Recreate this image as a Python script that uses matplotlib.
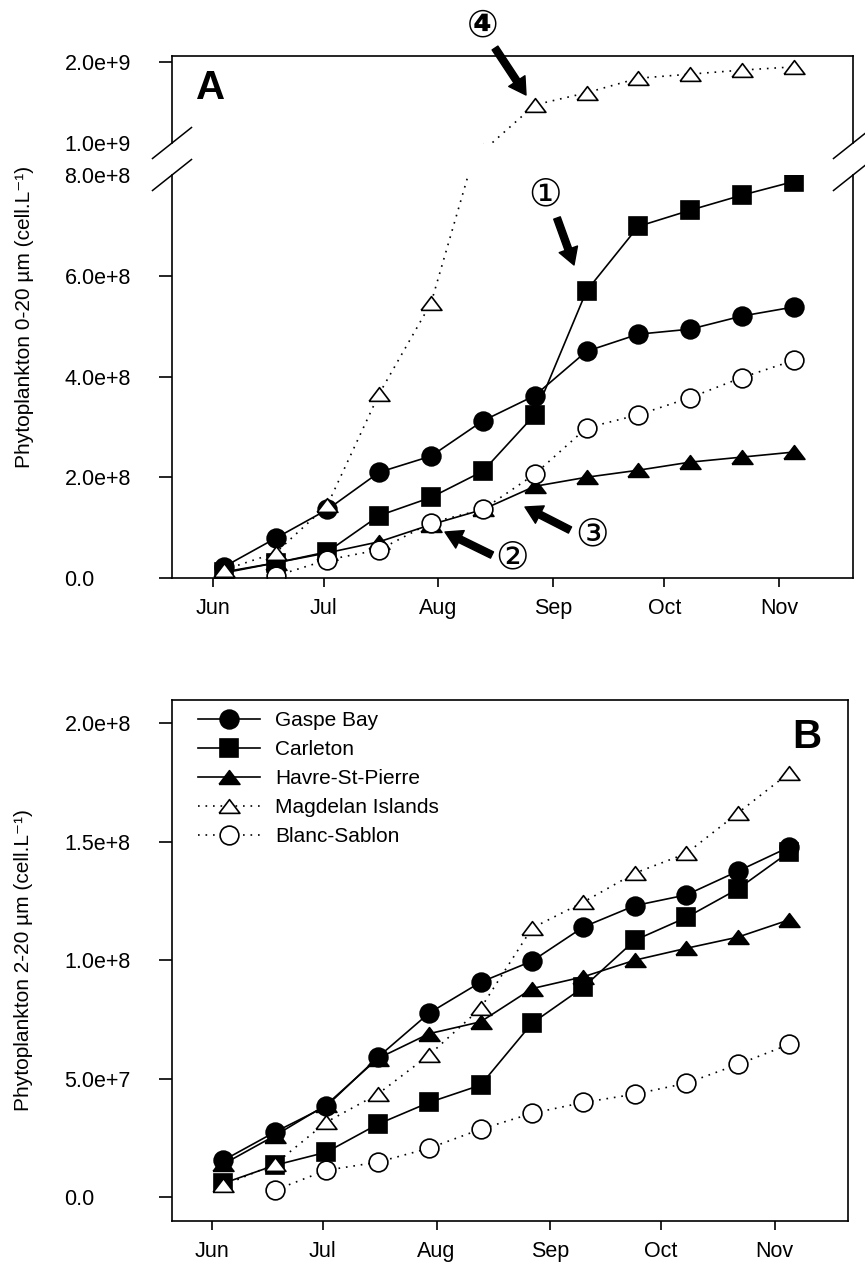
import numpy as np
import matplotlib
matplotlib.use('Agg')
import matplotlib.pyplot as plt
import pandas as pd
from matplotlib.lines import Line2D

plt.rcParams['font.family'] = ['Liberation Sans', 'DejaVu Sans']

W, H = 865, 1267

# sampling dates (every two weeks)
dates = pd.to_datetime(['1999-06-04', '1999-06-18', '1999-07-02', '1999-07-16',
                        '1999-07-30', '1999-08-13', '1999-08-27', '1999-09-10',
                        '1999-09-24', '1999-10-08', '1999-10-22', '1999-11-05'])
month_ticks = pd.to_datetime(['1999-06-01', '1999-07-01', '1999-08-01',
                              '1999-09-01', '1999-10-01', '1999-11-01'])
month_labels = ['Jun', 'Jul', 'Aug', 'Sep', 'Oct', 'Nov']
x_range = pd.to_datetime(['1999-05-21', '1999-11-21'])

stations = ['Gaspe Bay', 'Carleton', 'Havre-St-Pierre', 'Magdelan Islands', 'Blanc-Sablon']

# Panel A: phytoplankton 0-20 um (cell/L)
gaspe_a = [2.2e7, 7.9e7, 1.36e8, 2.10e8, 2.42e8, 3.12e8, 3.62e8, 4.50e8, 4.84e8, 4.94e8, 5.20e8, 5.38e8]
carleton_a = [1.2e7, 3.0e7, 5.2e7, 1.24e8, 1.60e8, 2.12e8, 3.24e8, 5.70e8, 6.98e8, 7.30e8, 7.60e8, 7.87e8]
havre_a = [1.0e7, 3.0e7, 5.0e7, 7.2e7, 1.06e8, 1.36e8, 1.82e8, 2.00e8, 2.14e8, 2.30e8, 2.40e8, 2.50e8]
magdelan_a = [1.6e7, 5.0e7, 1.45e8, 3.66e8, 5.46e8, 9.0e8, 1.47e9, 1.62e9, 1.80e9, 1.85e9, 1.90e9, 1.94e9]
blanc_a = [np.nan, 4.0e6, 3.6e7, 5.6e7, 1.10e8, 1.36e8, 2.06e8, 2.98e8, 3.24e8, 3.58e8, 3.98e8, 4.32e8]

# Panel B: phytoplankton 2-20 um (cell/L)
gaspe_b = [1.56e7, 2.75e7, 3.84e7, 5.90e7, 7.77e7, 9.07e7, 9.96e7, 1.14e8, 1.23e8, 1.275e8, 1.375e8, 1.477e8]
carleton_b = [5.9e6, 1.35e7, 1.90e7, 3.08e7, 4.00e7, 4.73e7, 7.34e7, 8.86e7, 1.084e8, 1.18e8, 1.30e8, 1.456e8]
havre_b = [1.4e7, 2.6e7, 3.9e7, 5.85e7, 6.90e7, 7.40e7, 8.80e7, 9.30e7, 1.00e8, 1.05e8, 1.097e8, 1.17e8]
magdelan_b = [5.0e6, 1.4e7, 3.17e7, 4.35e7, 6.00e7, 7.97e7, 1.135e8, 1.245e8, 1.367e8, 1.45e8, 1.62e8, 1.79e8]
blanc_b = [np.nan, 3.0e6, 1.14e7, 1.48e7, 2.07e7, 2.87e7, 3.54e7, 4.00e7, 4.35e7, 4.81e7, 5.60e7, 6.45e7]

yticks_a_low = [0, 2e8, 4e8, 6e8, 8e8]
ylabels_a_low = ['0.0', '2.0e+8', '4.0e+8', '6.0e+8', '8.0e+8']
yticks_a_top = [1e9, 2e9]
ylabels_a_top = ['1.0e+9', '2.0e+9']
yticks_b = [0, 5e7, 1e8, 1.5e8, 2e8]
ylabels_b = ['0.0', '5.0e+7', '1.0e+8', '1.5e+8', '2.0e+8']

# flat triangle like the original (closed path)
tri = [(-1, -0.66), (1, -0.66), (0, 0.66), (-1, -0.66)]
styles = {
    'Gaspe Bay': dict(marker='o', ms=13.5, mfc='black', ls='-'),
    'Carleton': dict(marker='s', ms=12.5, mfc='black', ls='-'),
    'Havre-St-Pierre': dict(marker=tri, ms=15, mfc='black', ls='-'),
    'Magdelan Islands': dict(marker=tri, ms=15, mfc='white', ls=(0, (1, 3.5))),
    'Blanc-Sablon': dict(marker='o', ms=13.5, mfc='white', ls=(0, (1, 3.5))),
}


def px(x, y):
    return x / W, 1 - y / H


def draw_series(ax, series):
    for name, vals in zip(stations, series):
        st = styles[name]
        ax.plot(dates, vals, color='black', lw=1.2, linestyle=st['ls'],
                marker=st['marker'], markersize=st['ms'], markerfacecolor=st['mfc'],
                markeredgecolor='black', markeredgewidth=1.2, label=name)


def style_axis(ax, yticks, ylabels):
    for sp in ax.spines.values():
        sp.set_linewidth(1.2)
    ax.set_xlim(x_range[0], x_range[1])
    ax.set_yticks(yticks)
    ax.set_yticklabels(ylabels)
    ax.tick_params(axis='y', direction='out', length=9.4, width=1.2, pad=68, labelsize=15.5)
    for lbl in ax.get_yticklabels():
        lbl.set_horizontalalignment('left')
    ax.set_xticks(month_ticks)
    ax.set_xticklabels(month_labels)
    ax.tick_params(axis='x', direction='out', length=6.5, width=1.2, pad=8, labelsize=15.5)


fig = plt.figure(figsize=(W / 100, H / 100), dpi=100)

# Panel A, broken y axis
ax_top = fig.add_axes([172 / W, 1 - 143 / H, 681 / W, 87 / H])
ax_low = fig.add_axes([172 / W, 1 - 578 / H, 681 / W, 403 / H])
ax_b = fig.add_axes([172 / W, 1 - 1221 / H, 676 / W, 521 / H])

series_a = [gaspe_a, carleton_a, havre_a, magdelan_a, blanc_a]
series_b = [gaspe_b, carleton_b, havre_b, magdelan_b, blanc_b]

draw_series(ax_top, series_a)
draw_series(ax_low, series_a)
draw_series(ax_b, series_b)

style_axis(ax_top, yticks_a_top, ylabels_a_top)
style_axis(ax_low, yticks_a_low, ylabels_a_low)
style_axis(ax_b, yticks_b, ylabels_b)

ax_top.set_ylim(1.0e9, 2.074e9)
ax_low.set_ylim(0, 8.0e8)
ax_b.set_ylim(-1.0e7, 2.097e8)

ax_top.spines['bottom'].set_visible(False)
ax_top.tick_params(axis='x', bottom=False, labelbottom=False)
ax_low.spines['top'].set_visible(False)
# no tick marks where the axis is broken
ax_top.yaxis.get_major_ticks()[0].tick1line.set_visible(False)
ax_low.yaxis.get_major_ticks()[-1].tick1line.set_visible(False)

# break marks
for bx in (172, 853):
    for by in (143, 175):
        x0, y0 = px(bx - 19.5, by + 15.5)
        x1, y1 = px(bx + 19.5, by - 15.5)
        fig.add_artist(Line2D([x0, x1], [y0, y1], transform=fig.transFigure,
                              color='black', lw=1.1))

# panel letters
fig.text(*px(211, 88), 'A', fontsize=29, fontweight='bold', ha='center', va='center')
fig.text(*px(807, 737), 'B', fontsize=29, fontweight='bold', ha='center', va='center')

# y labels
fig.text(*px(25, 317), 'Phytoplankton 0-20 µm (cell.L⁻¹)', rotation=90,
         fontsize=15, ha='center', va='center')
fig.text(*px(24, 960), 'Phytoplankton 2-20 µm (cell.L⁻¹)', rotation=90,
         fontsize=15, ha='center', va='center')

# numbered arrows
notes = [
    ('①', (545, 195), (557, 218), (574, 265), 'normal'),
    ('②', (512, 558), (492, 555), (445, 532), 'normal'),
    ('③', (592, 535), (570, 530), (525, 507), 'normal'),
    ('④', (483, 27), (495, 48), (526, 95), 'bold'),
]
for sym, lab, tail, head, wt in notes:
    fig.text(*px(*lab), sym, fontsize=27, fontweight=wt, ha='center', va='center',
             family=['DejaVu Sans', 'Noto Sans CJK JP'])
    ax_low.annotate('', xy=px(*head), xytext=px(*tail), xycoords='figure fraction',
                    textcoords='figure fraction', annotation_clip=False,
                    arrowprops=dict(facecolor='black', edgecolor='black', width=5,
                                    headwidth=14, headlength=12, shrink=0))

ax_b.legend(loc='upper left', bbox_to_anchor=(0.038, 0.978), frameon=False, fontsize=15,
            handlelength=3.0, handletextpad=0.7, labelspacing=0.48, borderpad=0,
            borderaxespad=0)

fig.savefig('out.png', dpi=100)
